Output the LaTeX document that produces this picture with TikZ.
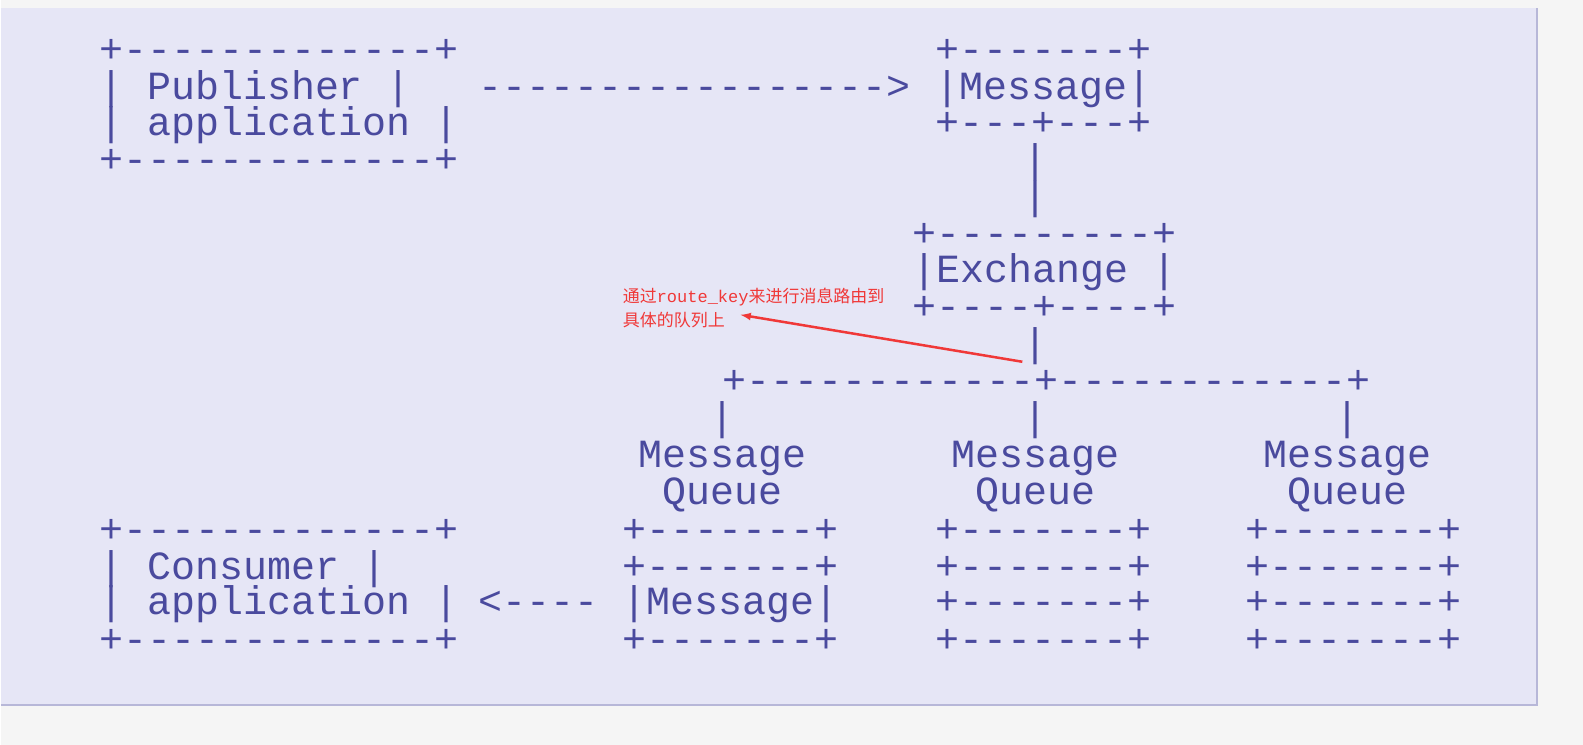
\documentclass[tikz,border=0pt]{standalone}
\usepackage{fontspec}
\setmonofont{Liberation Mono}
\newfontfamily\cjk{Noto Sans CJK SC}
\usetikzlibrary{positioning}
\definecolor{ink}{HTML}{4A4A9E}
\definecolor{paper}{HTML}{E6E6F6}
\definecolor{note}{HTML}{F03838}

\begin{document}
\begin{tikzpicture}[x=1pt, y=-1pt,
        asc/.style={inner sep=0pt, anchor=west, text=ink, font=\ttfamily\fontsize{40}{40}\selectfont, text height=0.7em, text depth=0.2em},
        mid/.style={asc, anchor=center},
        notetext/.style={inner sep=0pt, anchor=north west, text=note, align=left, font=\cjk\fontsize{17}{24}\selectfont}]
        \fill[black!4] (0,0) rectangle (1583,745);
        \fill[paper] (0,8) rectangle (1537,705);
        \draw[ink!40, line width=2pt] (0,705) -- (1537,705) -- (1537,8);
        \useasboundingbox (0,0) rectangle (1583,745);

        % publisher
        \node[asc] (p1) at (98,60) {+-------------+};
        \node[asc] (p2) at (98,97) {|  Publisher  |};
        \node[asc] (p3) at (98,133) {| application |};
        \node[asc] (p4) at (98,170) {+-------------+};
        \node[asc] (pm) at (478,97) {----------------->};

        % message + exchange
        \node[asc] (m1) at (935,60) {+-------+};
        \node[asc] (m2) at (935,97) {|Message|};
        \node[asc] (m3) at (935,133) {+---+---+};
        \node[mid] (v1) at (1035,170) {|};
        \node[mid] (v2) at (1035,207) {|};
        \node[asc] (x1) at (912,244) {+---------+};
        \node[asc] (x2) at (912,280) {|Exchange |};
        \node[asc] (x3) at (912,317) {+----+----+};
        \node[mid] (v3) at (1035,354) {|};
        \node[asc] (fan) at (722,391) {+------------+------------+};

        % queues
        \foreach \n/\x in {a/722, b/1035, c/1347} {
                \node[mid] (bar\n) at (\x,428) {|};
                \node[mid] (mq\n) at (\x,465) {Message};
                \node[mid] (qq\n) at (\x,502) {Queue};
        }
        \foreach \n/\x in {a/622, b/935, c/1245} {
                \node[asc] (qa\n) at (\x,540) {+-------+};
                \node[asc] (qb\n) at (\x,577) {+-------+};
                \node[asc] (qd\n) at (\x,650) {+-------+};
        }
        \node[asc] (qca) at (622,612) {|Message|};
        \node[asc] (qcb) at (935,612) {+-------+};
        \node[asc] (qcc) at (1245,612) {+-------+};

        % consumer
        \node[asc] (c1) at (98,540) {+-------------+};
        \node[asc] (c2) at (98,577) {|  Consumer   |};
        \node[asc] (c3) at (98,612) {| application |};
        \node[asc] (c4) at (98,650) {+-------------+};
        \node[asc] (cm) at (478,612) {<----};

        % annotation
        \node[notetext] (memo) at (622,288) {通过{\ttfamily route\_key}来进行消息路由到\\具体的队列上};
        \coordinate (tip) at (1022,362);
        \coordinate (aim) at (740,315);
        \draw[note, line width=2.5pt, -latex] (tip) -- (aim);
\end{tikzpicture}
\end{document}
